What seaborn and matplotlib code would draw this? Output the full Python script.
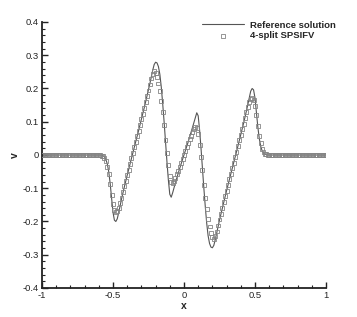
import numpy as np
import pandas as pd
import seaborn as sns
import matplotlib
matplotlib.use("Agg")
import matplotlib.pyplot as plt
from matplotlib.ticker import MultipleLocator, FuncFormatter

# sample grid (spacing 0.01 over [-1, 1])
x_grid = np.round(np.arange(-100, 101) / 100.0, 2)

# reference solution for x = -0.60 ... 0.60
ref_core = [
    0.000, 0.000, -0.001, -0.002, -0.006, -0.013, -0.027, -0.050, -0.085, -0.130,
    -0.172, -0.196, -0.200, -0.192, -0.174, -0.153, -0.133, -0.114, -0.096, -0.078,
    -0.061, -0.044, -0.027, -0.010, 0.007, 0.023, 0.040, 0.056, 0.073, 0.090,
    0.107, 0.124, 0.142, 0.160, 0.178, 0.196, 0.215, 0.235, 0.255, 0.272,
    0.279, 0.277, 0.266, 0.243, 0.205, 0.155, 0.100, 0.040, -0.020, -0.075,
    -0.118, -0.127, -0.114, -0.098, -0.083, -0.068, -0.054, -0.040, -0.026, -0.013,
    0.000, 0.013, 0.026, 0.040, 0.054, 0.068, 0.083, 0.098, 0.114, 0.127,
    0.118, 0.075, 0.020, -0.040, -0.100, -0.155, -0.205, -0.243, -0.266, -0.277,
    -0.279, -0.272, -0.255, -0.235, -0.215, -0.196, -0.178, -0.160, -0.142, -0.124,
    -0.107, -0.090, -0.073, -0.056, -0.040, -0.023, -0.007, 0.010, 0.027, 0.044,
    0.061, 0.078, 0.096, 0.114, 0.133, 0.153, 0.174, 0.192, 0.200, 0.196,
    0.172, 0.130, 0.085, 0.050, 0.027, 0.013, 0.006, 0.002, 0.001, 0.000,
    0.000,
]

# 4-split SPSIFV points for x = -0.60 ... 0.60
num_core = [
    0.000, -0.001, -0.002, -0.004, -0.009, -0.019, -0.035, -0.058, -0.088, -0.120,
    -0.148, -0.165, -0.171, -0.169, -0.160, -0.145, -0.128, -0.111, -0.094, -0.077,
    -0.061, -0.044, -0.027, -0.010, 0.007, 0.023, 0.040, 0.056, 0.073, 0.090,
    0.107, 0.124, 0.142, 0.159, 0.177, 0.194, 0.212, 0.230, 0.245, 0.252,
    0.248, 0.235, 0.215, 0.192, 0.163, 0.130, 0.090, 0.045, 0.005, -0.030,
    -0.062, -0.081, -0.083, -0.078, -0.069, -0.058, -0.047, -0.035, -0.023, -0.011,
    0.000, 0.011, 0.023, 0.035, 0.047, 0.058, 0.069, 0.078, 0.083, 0.081,
    0.062, 0.030, -0.005, -0.045, -0.090, -0.130, -0.163, -0.192, -0.215, -0.235,
    -0.248, -0.252, -0.245, -0.230, -0.212, -0.194, -0.177, -0.159, -0.142, -0.124,
    -0.107, -0.090, -0.073, -0.056, -0.040, -0.023, -0.007, 0.010, 0.027, 0.044,
    0.061, 0.077, 0.094, 0.111, 0.128, 0.145, 0.160, 0.169, 0.171, 0.165,
    0.148, 0.120, 0.088, 0.058, 0.035, 0.019, 0.009, 0.004, 0.002, 0.001,
    0.000,
]

flat = [0.0] * 40  # v is zero for |x| > 0.6
v_ref = flat + ref_core + flat
v_num = flat + num_core + flat

df = pd.DataFrame({"x": x_grid, "ref": v_ref, "num": v_num})

sns.set_style("ticks")
plt.rcParams["font.family"] = ["Liberation Sans", "DejaVu Sans"]
plt.rcParams["axes.unicode_minus"] = False

fig = plt.figure(figsize=(3.57, 3.17), dpi=100)
ax = fig.add_axes([0.1176, 0.0915, 0.7955, 0.8391])

sns.lineplot(data=df, x="x", y="ref", ax=ax, color="#555555", linewidth=0.8,
             label="Reference solution", sort=False)
sns.scatterplot(data=df, x="x", y="num", ax=ax, marker="s", s=8,
                facecolors="none", edgecolor="#858585", linewidth=0.6,
                label="4-split SPSIFV", zorder=3)

ax.set_xlim(-1, 1)
ax.set_ylim(-0.4, 0.4)
ax.xaxis.set_major_locator(MultipleLocator(0.5))
ax.xaxis.set_minor_locator(MultipleLocator(0.1))
ax.yaxis.set_major_locator(MultipleLocator(0.1))
ax.yaxis.set_minor_locator(MultipleLocator(0.02))
fmt = FuncFormatter(lambda v, p: f"{v:g}" if abs(v) > 1e-9 else "0")
ax.xaxis.set_major_formatter(fmt)
ax.yaxis.set_major_formatter(fmt)

for s in ["top", "right"]:
    ax.spines[s].set_visible(False)
for s in ["left", "bottom"]:
    ax.spines[s].set_linewidth(1.3)
    ax.spines[s].set_color("#222222")

ax.tick_params(which="major", direction="in", length=4, width=1.0,
               labelsize=6.8, color="#222222", pad=2)
ax.tick_params(which="minor", direction="in", length=2.2, width=0.8,
               color="#222222")

ax.set_xlabel("x", fontsize=7.5, fontweight="bold", labelpad=1)
ax.set_ylabel("v", fontsize=7.5, fontweight="bold", labelpad=2)

leg = ax.legend(loc="upper right", frameon=False, fontsize=6.8,
                handlelength=4.5, handletextpad=0.6, labelspacing=0.15,
                borderaxespad=0, borderpad=0,
                bbox_to_anchor=(0.94, 0.935), bbox_transform=fig.transFigure)
for t in leg.get_texts():
    t.set_fontweight("bold")

fig.savefig("out.png", dpi=100)
